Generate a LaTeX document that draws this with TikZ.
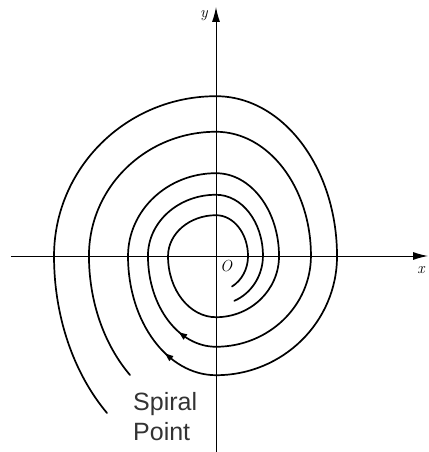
\documentclass[tikz,border=0pt]{standalone}
\usepackage{fontspec}
\newfontfamily\labelfont{Liberation Sans}
\usetikzlibrary{arrows.meta, positioning, shapes.geometric}

\begin{document}
\begin{tikzpicture}[x=1pt, y=1pt,
		axis/.style={line width=1pt, -{Latex[length=15pt,width=8pt]}},
		orbit/.style={line width=1.7pt, line cap=round},
		flowtip/.style={isosceles triangle, isosceles triangle apex angle=45, fill=black, inner sep=1.8pt},
		axlabel/.style={font=\itshape\fontsize{16}{18}\selectfont}]
	\useasboundingbox (-216,-196) rectangle (212,256);
	% axes
	\coordinate (xl) at (-205,0);
	\coordinate (xr) at (212,0);
	\coordinate (yb) at (0,-196);
	\coordinate (yt) at (0,249);
	\draw[axis] (xl) -- (xr);
	\draw[axis] (yb) -- (yt);
	\node[axlabel] (ylab) at (-12,240) {y};
	\node[axlabel] (xlab) at (205,-14) {x};
	\node[axlabel] (olab) at (10,-10) {O};
	% outer spiral
	\coordinate (tailA) at (-109,-157);
	\draw[orbit] (tailA) arc[start angle=-132.3, end angle=-180, x radius=162, y radius=212]
		arc[start angle=180, end angle=90, x radius=162, y radius=160]
		arc[start angle=90, end angle=0, x radius=121, y radius=160]
		arc[start angle=0, end angle=-90, x radius=121, y radius=119]
		arc[start angle=-90, end angle=-180, x radius=88, y radius=119]
		arc[start angle=180, end angle=90, x radius=88, y radius=83]
		arc[start angle=90, end angle=0, x radius=63, y radius=83]
		arc[start angle=0, end angle=-90, x radius=63, y radius=61]
		arc[start angle=-90, end angle=-180, x radius=48, y radius=61]
		arc[start angle=180, end angle=90, x radius=48, y radius=41]
		arc[start angle=90, end angle=0, x radius=32, y radius=41]
		arc[start angle=0, end angle=-60, x radius=32, y radius=35] coordinate (endA);
	\node[flowtip, rotate=140] (arrA) at (-46,-101.5) {};
	% inner spiral
	\coordinate (tailB) at (-86,-119);
	\draw[orbit] (tailB) arc[start angle=-132.6, end angle=-180, x radius=127, y radius=162]
		arc[start angle=180, end angle=90, x radius=127, y radius=124]
		arc[start angle=90, end angle=0, x radius=95, y radius=124]
		arc[start angle=0, end angle=-90, x radius=95, y radius=91]
		arc[start angle=-90, end angle=-180, x radius=68, y radius=91]
		arc[start angle=180, end angle=90, x radius=68, y radius=61]
		arc[start angle=90, end angle=0, x radius=47, y radius=61]
		arc[start angle=0, end angle=-67, x radius=47, y radius=49] coordinate (endB);
	\node[flowtip, rotate=144] (arrB) at (-32,-80) {};
	% caption
	\node[font=\labelfont\fontsize{25}{30}\selectfont, text=black!80, align=left, anchor=north west, inner sep=0pt] (cap) at (-83,-136) {Spiral\\Point};
\end{tikzpicture}
\end{document}
